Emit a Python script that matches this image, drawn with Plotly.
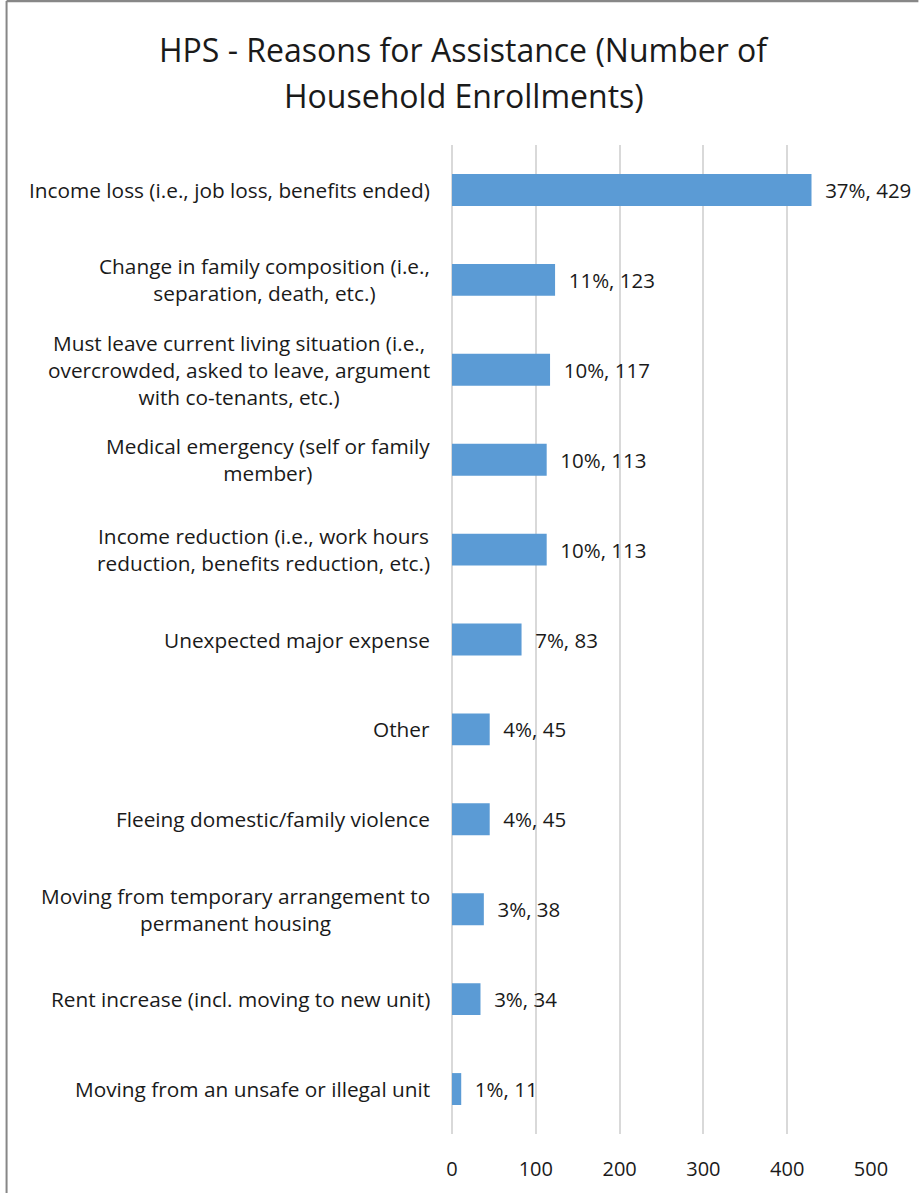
import plotly.graph_objects as go

categories = [
    "Income loss (i.e., job loss, benefits ended)",
    "Change in family composition (i.e.,<br>separation, death, etc.)",
    "Must leave current living situation (i.e.,<br>overcrowded, asked to leave, argument<br>with co-tenants, etc.)",
    "Medical emergency (self or family<br>member)",
    "Income reduction (i.e., work hours<br>reduction, benefits reduction, etc.)",
    "Unexpected major expense",
    "Other",
    "Fleeing domestic/family violence",
    "Moving from temporary arrangement to<br>permanent housing",
    "Rent increase (incl. moving to new unit)",
    "Moving from an unsafe or illegal unit",
]
counts = [429, 123, 117, 113, 113, 83, 45, 45, 38, 34, 11]
percents = [37, 11, 10, 10, 10, 7, 4, 4, 3, 3, 1]
x_ticks = [0, 100, 200, 300, 400, 500]
title_lines = ["HPS - Reasons for Assistance (Number of", "Household Enrollments)"]

FONT = "Open Sans"
TXT = "#1a1a1a"
W, H = 919, 1193
L, R, T, B = 451.5, 47.5, 145, 59
pw = W - L - R
ph = H - T - B

labels = ["\u00a0\u00a0" + f"{p}%, {c}" for p, c in zip(percents, counts)]
ypos = list(range(len(categories)))

fig = go.Figure()
fig.add_trace(go.Bar(
    x=counts, y=ypos, orientation="h",
    marker=dict(color="#5B9BD5", line=dict(width=0)),
    width=0.355,
    text=labels, textposition="outside", cliponaxis=False,
    textfont=dict(family=FONT, size=20.5, color=TXT),
    hoverinfo="skip",
))

for yi, cat in zip(ypos, categories):
    fig.add_annotation(
        x=0, xref="paper", y=yi, yref="y",
        text=cat, showarrow=False, xanchor="right", yanchor="middle",
        align="center", xshift=-20,
        font=dict(family=FONT, size=20.8, color=TXT),
    )

# title, two lines
for i, line in enumerate(title_lines):
    fig.add_annotation(
        x=(464 - L) / pw, xref="paper", xanchor="center",
        y=(H - B - (50 + 45 * i)) / ph, yref="paper", yanchor="middle",
        text=line, showarrow=False,
        font=dict(family=FONT, size=32, color=TXT),
    )

# chart border (left and top edges visible)
fig.add_shape(type="line", xref="paper", yref="paper",
              x0=(5 - L) / pw, x1=(5 - L) / pw, y0=-B / ph - 0.01, y1=(H - 1 - B) / ph,
              line=dict(color="#878787", width=2))
fig.add_shape(type="line", xref="paper", yref="paper",
              x0=(5 - L) / pw, x1=(W - L) / pw, y0=(H - 1 - B) / ph, y1=(H - 1 - B) / ph,
              line=dict(color="#878787", width=2.5))

fig.update_layout(
    width=W, height=H,
    margin=dict(l=L, r=R, t=T, b=B, pad=0),
    paper_bgcolor="white", plot_bgcolor="white",
    showlegend=False,
    xaxis=dict(range=[0, 500], tickvals=x_ticks, showgrid=True, gridcolor="#d9d9d9",
               gridwidth=2, zeroline=True, zerolinecolor="#d9d9d9", zerolinewidth=2,
               showline=False, ticks="", ticklabelstandoff=21,
               tickfont=dict(family=FONT, size=20, color=TXT)),
    yaxis=dict(range=[len(categories) - 0.5, -0.5], showticklabels=False,
               showgrid=False, zeroline=False, showline=False, ticks=""),
)

fig.write_html("out.html")
